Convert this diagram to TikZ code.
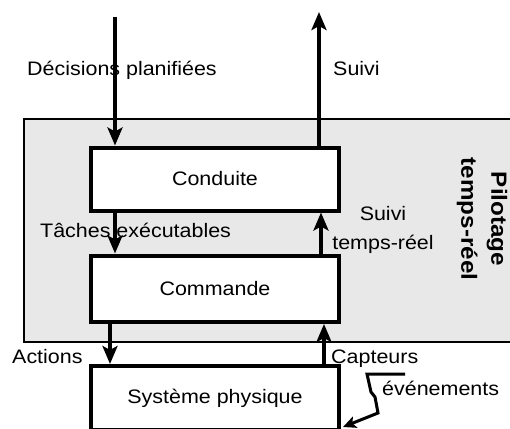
\documentclass[tikz,border=0pt]{standalone}
\usepackage{fontspec}
\setmainfont{Liberation Sans}[FakeStretch=1.1]
\usetikzlibrary{arrows.meta}
\definecolor{panelgray}{RGB}{232,232,232}
\begin{document}
\begin{tikzpicture}[x=1pt,y=-1pt,
  txt/.style={font=\fontsize{19.5}{23}\selectfont, inner sep=0pt},
  box/.style={txt, draw, line width=4pt, fill=white, minimum width=248pt},
  flow/.style={line width=3.5pt, -{Stealth[length=18pt,width=15pt,inset=4pt]}},
  evflow/.style={line width=3pt, line join=miter, -{Stealth[length=13pt,width=12pt,inset=3pt]}},
]
\clip (0,0) rectangle (510,428);
\useasboundingbox (0,0) rectangle (510,428);

% real-time control area
\draw[line width=2.5pt, fill=panelgray] (24,119) rectangle (530,342);
\node[font=\bfseries\fontsize{22}{30}\selectfont, inner sep=0pt, rotate=-90, align=center]
  (pilotage) at (482,219) {Pilotage\\temps-réel};

% levels
\node[box, minimum height=63pt] (conduite) at (215,179) {Conduite};
\node[box, minimum height=66.5pt] (commande) at (215,288.75) {Commande};
\node[box, minimum height=64pt] (systeme) at (215,398) {Système physique};

% free ends of the outer flows
\coordinate (dtop) at (115,17);
\coordinate (stop) at (319,12);

% flows
\draw[flow] (dtop) -- (dtop |- conduite.north);
\draw[flow] (stop |- conduite.north) -- (stop);
\draw[flow] (115,0 |- conduite.south) -- (115,0 |- commande.north);
\draw[flow] (321,0 |- commande.north) -- (321,0 |- conduite.south);
\draw[flow] (110,0 |- commande.south) -- (110,0 |- systeme.north);
\draw[flow] (324,0 |- systeme.north) -- (324,0 |- commande.south);

% events entering the physical system
\coordinate (ev0) at (405,374);
\coordinate (evend) at (343,427);
\draw[evflow] (ev0) -- (367,374) -- (371,392) -- (375,397) -- (378,413) -- (evend);

% labels
\node[txt, anchor=base west] (ldec) at (27,75) {Décisions planifiées};
\node[txt, anchor=base west] (lsuivi) at (333,75) {Suivi};
\node[txt, anchor=base west] (ltaches) at (40,237) {Tâches exécutables};
% base anchor of a two-line node sits on its last line
\node[txt, anchor=base, align=center, font=\fontsize{19.5}{29}\selectfont] (lsuivitr) at (383,249) {Suivi\\temps-réel};
\node[txt, anchor=base west] (lactions) at (12,363) {Actions};
\node[txt, anchor=base west] (lcapteurs) at (331,363) {Capteurs};
\node[txt, anchor=base west] (levents) at (382,395) {événements};
\end{tikzpicture}
\end{document}
